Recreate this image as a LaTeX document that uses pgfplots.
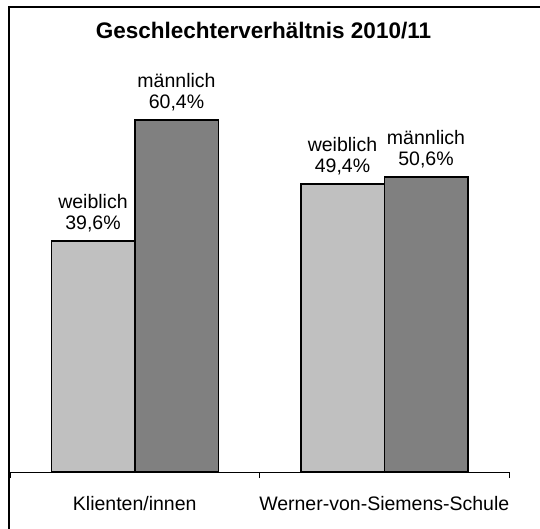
\documentclass[border=0pt]{standalone}
\usepackage{pgfplots}
\pgfplotsset{compat=1.18}
\usepackage{fontspec}
\setmainfont{Liberation Sans}

\definecolor{weibl}{HTML}{C0C0C0}
\definecolor{maennl}{HTML}{808080}

\begin{document}
\begin{tikzpicture}
\useasboundingbox (0,0) rectangle (540pt,528pt);
\draw[line width=2pt] (9pt,-20pt) -- (9pt,521pt) -- (580pt,521pt);
\begin{axis}[
  at={(10pt,56pt)}, anchor=south west,
  scale only axis, width=499pt, height=408.1pt,
  xmin=-0.5, xmax=1.5, ymin=0, ymax=70,
  enlargelimits=false,
  axis x line*=bottom, axis y line=none,
  axis line style={-, line width=1pt, black},
  ybar=0pt, bar width=83.5pt,
  xtick={0,1}, xticklabels={Klienten/innen, Werner-von-Siemens-Schule},
  major tick length=0pt,
  minor xtick={-0.5,0.5,1.5}, minor tick length=6pt, tick align=outside,
  minor tick style={line width=1pt, black},
  xticklabel style={font=\fontsize{19.5}{21.5}\selectfont, anchor=base, yshift=-38pt},
  title={Geschlechterverhältnis 2010/11},
  title style={font=\fontsize{22.5}{25}\selectfont\bfseries, at={(0.5,1)}, anchor=base, yshift=19pt, xshift=4pt},
  every node near coord/.append style={font=\fontsize{19.5}{21.5}\selectfont, align=center, anchor=south, inner sep=0pt, yshift=8pt, text=black},
  point meta=explicit symbolic,
]
\addplot[fill=weibl, draw=black, line width=1.5pt,
  nodes near coords={weiblich\\\pgfplotspointmeta\%}]
  coordinates {(0,39.6) [39,6] (1,49.4) [49,4]};
\addplot[fill=maennl, draw=black, line width=1.5pt,
  nodes near coords={männlich\\\pgfplotspointmeta\%}]
  coordinates {(0,60.4) [60,4] (1,50.6) [50,6]};
\end{axis}
\end{tikzpicture}
\end{document}
